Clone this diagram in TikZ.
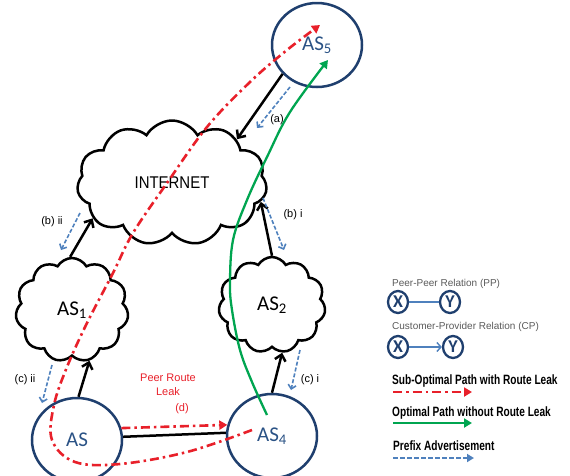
\documentclass[tikz,border=0pt]{standalone}
\usepackage{fontspec}
\setmainfont{Liberation Sans}
\newfontfamily\asfont{Carlito}
\newfontfamily\keyfont[FakeStretch=0.75]{Liberation Sans}
\newfontfamily\inetfont[FakeStretch=0.88]{Liberation Sans}
\usetikzlibrary{shapes.geometric,shapes.symbols,arrows.meta}

\definecolor{asblue}{HTML}{1F3F6E}
\definecolor{astext}{HTML}{2A5285}
\definecolor{advblue}{HTML}{4F81BD}
\definecolor{leakred}{HTML}{E8202A}
\definecolor{optgreen}{HTML}{00A550}
\definecolor{keygray}{HTML}{5A5A5A}

\tikzset{
  asnode/.style={ellipse, draw=asblue, line width=2.5pt, minimum width=90pt,
    minimum height=84pt, inner sep=0pt, text=astext,
    font=\asfont\fontsize{21}{24}\selectfont},
  cloudnode/.style={cloud, draw, line width=2.5pt, cloud puffs=11,
    cloud puff arc=120, cloud ignores aspect, inner sep=0pt,
    font=\asfont\fontsize{21}{24}\selectfont},
  cp/.style={line width=2.5pt, -{Straight Barb[length=6pt,width=11pt]}},
  adv/.style={advblue, line width=1.6pt, dash pattern=on 4pt off 2pt,
    -{Straight Barb[length=4pt,width=8pt,line width=1.6pt]}},
  leak/.style={leakred, line width=2.6pt,
    dash pattern=on 9pt off 4pt on 2.5pt off 4pt,
    -{Triangle[length=8pt,width=9pt]}},
  optimal/.style={optgreen, line width=2.3pt, -{Triangle[length=8pt,width=9pt]}},
  lbl/.style={font=\fontsize{11}{14}\selectfont, inner sep=1pt},
  keytxt/.style={anchor=west, text=keygray, inner sep=0pt,
    font=\fontsize{10}{12}\selectfont},
  keyhead/.style={anchor=west, inner sep=0pt,
    font=\keyfont\bfseries\fontsize{13.5}{15}\selectfont},
  keynode/.style={ellipse, draw=asblue, line width=2.3pt, minimum width=20pt,
    minimum height=22pt, inner sep=0pt, text=asblue,
    font=\asfont\bfseries\fontsize{18}{18}\selectfont}
}

\begin{document}
\begin{tikzpicture}[x=1pt,y=-1pt]
  \clip (0,0) rectangle (570,475);

  % the autonomous systems
  \node[asnode] (as5) at (317,45) {AS\textsubscript{5}};
  \node[asnode] (as) at (77,440) {AS};
  \node[asnode] (as4) at (272,436) {AS\textsubscript{4}};

  % the clouds
  \node[cloudnode, minimum width=190pt, minimum height=125pt,
    font=\inetfont\fontsize{17}{20}\selectfont] (inet) at (172,183) {INTERNET};
  \node[cloudnode, minimum width=113pt, minimum height=104pt] (as1) at (72,310) {AS\textsubscript{1}};
  \node[cloudnode, minimum width=107pt, minimum height=96pt] (as2) at (272,305) {AS\textsubscript{2}};

  % customer-provider links
  \draw[cp] (as5.220) -- (inet.34);
  \draw[cp] (as1.92) -- (inet.204);
  \draw[cp] (as2.90) -- (inet.-12);
  \draw[cp] (as.88) -- (as1.-71);
  \draw[cp] (as4.90) -- (as2.-78);

  % peer link
  \draw[line width=2.5pt] (as.4) -- (as4.176);

  % prefix advertisements
  \coordinate (a0) at (290,87);   \coordinate (a1) at (257,128);
  \coordinate (bi0) at (263,198); \coordinate (bi1) at (284,250);
  \coordinate (bii0) at (80,213); \coordinate (bii1) at (61,250);
  \coordinate (ci0) at (300,350); \coordinate (ci1) at (291,390);
  \coordinate (cii0) at (52,365); \coordinate (cii1) at (42,403);
  \draw[adv] (a0) -- (a1);
  \draw[adv] (bi0) -- (bi1);
  \draw[adv] (bii0) -- (bii1);
  \draw[adv] (ci0) -- (ci1);
  \draw[adv] (cii0) -- (cii1);

  % labels
  \node[lbl] (la) at (277,120) {(a)};
  \node[lbl] (lbi) at (293,215) {(b) i};
  \node[lbl] (lbii) at (52,222) {(b) ii};
  \node[lbl] (lci) at (310,380) {(c) i};
  \node[lbl] (lcii) at (25,380) {(c) ii};

  % the leaked route
  \draw[leak] (as.15) -- (as4.166);
  \node[lbl, text=leakred, align=center] (leaktxt) at (168,385) {Peer Route\\Leak};
  \node[lbl, text=leakred] (ld) at (182,409) {(d)};

  % sub-optimal path
  \draw[leak] plot[smooth, tension=0.6] coordinates {(252,430) (187,452) (120,464)
    (75,462) (52,440) (54,405) (67,367) (87,323) (113,273) (133,233) (167,183)
    (207,127) (250,82) (287,50) (320,25)};

  % optimal path
  \draw[optimal] plot[smooth, tension=0.6] coordinates {(267,415) (252,382) (240,350)
    (232,310) (230,283) (233,240) (247,200) (267,157) (290,112) (328,60)};

  % legend
  \node[keytxt] (pptxt) at (392,284) {Peer-Peer Relation (PP)};
  \node[keynode] (ppx) at (398,302) {X};
  \node[keynode] (ppy) at (450,302) {Y};
  \draw[advblue, line width=1.4pt] (ppx) -- (ppy);
  \node[keytxt] (cptxt) at (392,327) {Customer-Provider Relation (CP)};
  \node[keynode] (cpx) at (398,347) {X};
  \node[keynode] (cpy) at (453,347) {Y};
  \draw[advblue, line width=1.4pt, -{Straight Barb[length=4pt,width=9pt]}] (cpx) -- (cpy);

  \node[keyhead] (k1txt) at (392,381) {Sub-Optimal Path with Route Leak};
  \coordinate (k1a) at (393,392); \coordinate (k1b) at (472,392);
  \draw[leak] (k1a) -- (k1b);
  \node[keyhead] (k2txt) at (392,413) {Optimal Path without Route Leak};
  \coordinate (k2a) at (393,423); \coordinate (k2b) at (472,423);
  \draw[optimal] (k2a) -- (k2b);
  \node[keyhead] (k3txt) at (393,446) {Prefix Advertisement};
  \coordinate (k3a) at (393,458); \coordinate (k3b) at (474,458);
  \draw[adv, line width=2.2pt, dash pattern=on 5pt off 2pt,
    -{Triangle[length=7pt,width=8pt]}] (k3a) -- (k3b);
\end{tikzpicture}
\end{document}
